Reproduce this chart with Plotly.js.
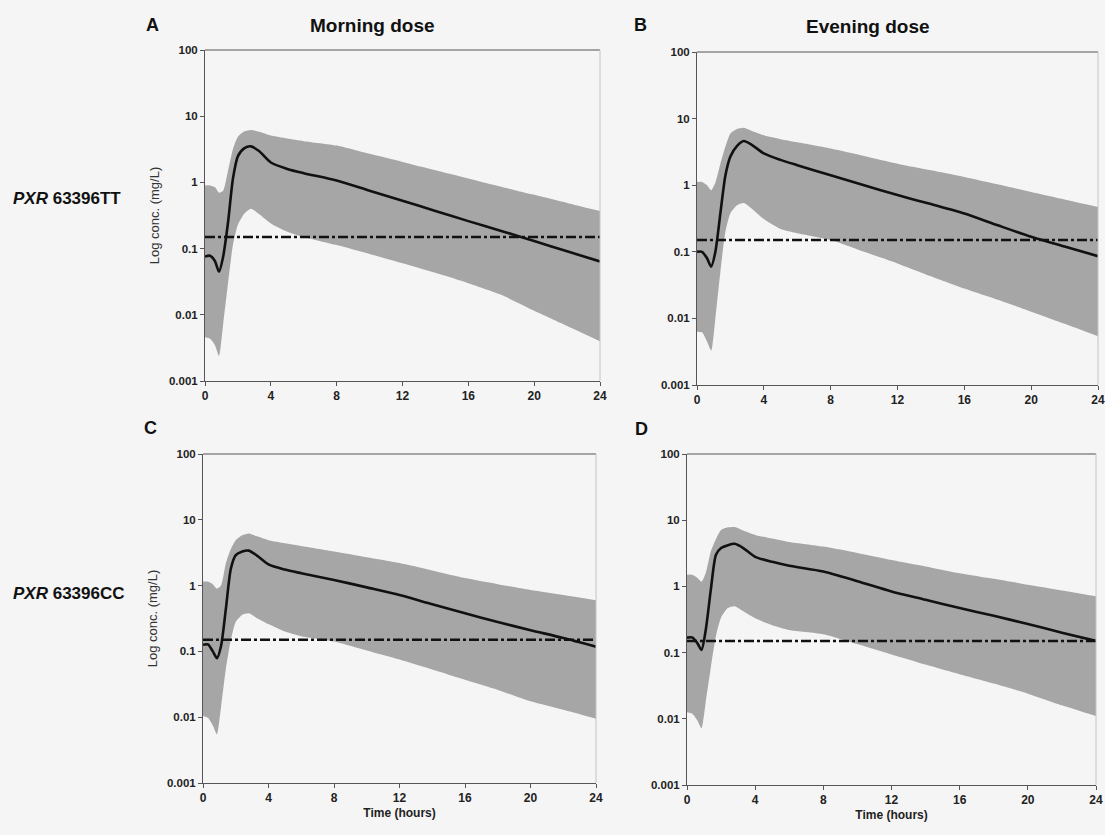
<!DOCTYPE html>
<html>
<head>
<meta charset="utf-8">
<script src="https://cdn.plot.ly/plotly-3.0.1.min.js"></script>
<style>
  html, body { margin: 0; padding: 0; background: #f5f5f5; }
  #chart { width: 1105px; height: 835px; }
</style>
</head>
<body>
<div id="chart"></div>
<script>
// Sampling times (hours after dose)
const hours = [0, 0.3, 0.6, 0.85, 1.1, 1.4, 1.7, 2.0, 2.4, 2.8, 3.3, 4, 5, 6, 8, 10, 12, 14, 16, 18, 20, 22, 24];

// Panel A: PXR 63396TT, morning dose
const medianA = [0.076, 0.078, 0.065, 0.045, 0.075, 0.25, 1.15, 2.5, 3.3, 3.5, 2.95, 2.0, 1.6, 1.38, 1.07, 0.75, 0.53, 0.37, 0.26, 0.185, 0.13, 0.091, 0.064];
const upperA  = [0.9, 0.9, 0.85, 0.7, 0.75, 1.5, 3.2, 4.9, 5.9, 6.2, 5.8, 5.1, 4.6, 4.2, 3.6, 2.7, 2.04, 1.53, 1.15, 0.86, 0.65, 0.49, 0.37];
const lowerA  = [0.0046, 0.0044, 0.0035, 0.0024, 0.007, 0.03, 0.115, 0.23, 0.34, 0.4, 0.33, 0.24, 0.18, 0.15, 0.113, 0.083, 0.06, 0.043, 0.03, 0.02, 0.0115, 0.0068, 0.0040];

// Panel B: PXR 63396TT, evening dose
const medianB = [0.1, 0.1, 0.08, 0.06, 0.1, 0.38, 1.4, 2.7, 3.9, 4.6, 4.0, 3.0, 2.4, 2.0, 1.41, 1.0, 0.71, 0.52, 0.376, 0.25, 0.168, 0.12, 0.086];
const upperB  = [1.12, 1.12, 1.0, 0.84, 1.1, 2.1, 3.8, 6.0, 7.0, 7.3, 6.5, 5.6, 4.9, 4.4, 3.55, 2.75, 2.1, 1.67, 1.33, 1.03, 0.79, 0.61, 0.47];
const lowerB  = [0.0063, 0.0062, 0.0045, 0.0033, 0.01, 0.05, 0.2, 0.38, 0.5, 0.54, 0.44, 0.31, 0.22, 0.19, 0.15, 0.1, 0.067, 0.043, 0.028, 0.019, 0.0126, 0.0083, 0.0054];

// Panel C: PXR 63396CC, morning dose
const medianC = [0.126, 0.128, 0.1, 0.079, 0.12, 0.45, 1.8, 2.9, 3.3, 3.4, 2.85, 2.1, 1.75, 1.54, 1.22, 0.94, 0.72, 0.52, 0.38, 0.28, 0.21, 0.16, 0.118];
const upperC  = [1.15, 1.15, 1.05, 0.9, 1.0, 2.2, 3.6, 4.9, 5.8, 6.2, 5.6, 4.9, 4.4, 4.0, 3.3, 2.7, 2.2, 1.7, 1.3, 1.05, 0.86, 0.72, 0.6];
const lowerC  = [0.0104, 0.0098, 0.0075, 0.0055, 0.014, 0.055, 0.15, 0.28, 0.36, 0.38, 0.32, 0.26, 0.2, 0.17, 0.141, 0.103, 0.075, 0.053, 0.037, 0.026, 0.0175, 0.013, 0.0095];

// Panel D: PXR 63396CC, evening dose
const medianD = [0.168, 0.17, 0.14, 0.11, 0.22, 0.9, 3.0, 3.8, 4.2, 4.4, 3.8, 2.8, 2.35, 2.05, 1.68, 1.2, 0.84, 0.63, 0.47, 0.36, 0.27, 0.2, 0.15];
const upperD  = [1.5, 1.5, 1.35, 1.18, 1.6, 3.4, 5.2, 7.1, 7.8, 7.9, 7.0, 6.0, 5.3, 4.7, 4.0, 3.2, 2.5, 2.0, 1.58, 1.3, 1.06, 0.87, 0.71];
const lowerD  = [0.0126, 0.012, 0.0095, 0.0072, 0.018, 0.06, 0.18, 0.34, 0.47, 0.5, 0.42, 0.33, 0.26, 0.22, 0.19, 0.135, 0.094, 0.066, 0.047, 0.034, 0.024, 0.016, 0.011];

// Target concentration line
const thresholdSpan = [0, 24];
const thresholdLevel = [0.15, 0.15];

// Axis tick labels
const timeTicks = [0, 4, 8, 12, 16, 20, 24];
const concTicks = [0.001, 0.01, 0.1, 1, 10, 100];
const concLabels = ['0.001', '0.01', '0.1', '1', '10', '100'];

const FONT = 'Liberation Sans, Arial, sans-serif';
const BAND = '#a6a6a6';

const panels = [
  { med: medianA, up: upperA, lo: lowerA, xa: 'x',  ya: 'y'  },
  { med: medianB, up: upperB, lo: lowerB, xa: 'x2', ya: 'y2' },
  { med: medianC, up: upperC, lo: lowerC, xa: 'x3', ya: 'y3' },
  { med: medianD, up: upperD, lo: lowerD, xa: 'x4', ya: 'y4' }
];

const traces = [];
panels.forEach(p => {
  traces.push({ x: hours, y: p.lo, xaxis: p.xa, yaxis: p.ya, mode: 'lines',
    line: { width: 0, shape: 'spline', smoothing: 0.6 }, hoverinfo: 'skip' });
  traces.push({ x: hours, y: p.up, xaxis: p.xa, yaxis: p.ya, mode: 'lines', fill: 'tonexty',
    fillcolor: BAND, line: { width: 0, shape: 'spline', smoothing: 0.6 }, hoverinfo: 'skip' });
  traces.push({ x: hours, y: p.med, xaxis: p.xa, yaxis: p.ya, mode: 'lines',
    line: { color: '#111', width: 2.6, shape: 'spline', smoothing: 0.7 } });
  traces.push({ x: thresholdSpan, y: thresholdLevel, xaxis: p.xa, yaxis: p.ya, mode: 'lines',
    line: { color: '#111', width: 2.6, dash: '10px,3px,3px,3px' } });
});

const W = 1105, H = 835;
function xd(a, b) { return [a / W, b / W]; }
function yd(top, bottom) { return [1 - bottom / H, 1 - top / H]; }

function xAxis(dom, anchor, withTitle) {
  const ax = {
    domain: dom, anchor: anchor, range: [0, 24], tickvals: timeTicks, ticktext: timeTicks.map(String),
    showline: true, linecolor: '#555', linewidth: 1, ticks: 'outside', ticklen: 4, tickcolor: '#555',
    showgrid: false, zeroline: false,
    tickfont: { family: FONT, size: 12, color: '#222', weight: 'bold' }
  };
  if (withTitle) {
    ax.title = { text: 'Time (hours)', font: { family: FONT, size: 12, color: '#222', weight: 'bold' }, standoff: 4 };
  }
  return ax;
}
function yAxis(dom, anchor, withTitle) {
  const ax = {
    domain: dom, anchor: anchor, type: 'log', range: [-3, 2], tickvals: concTicks, ticktext: concLabels,
    showline: true, linecolor: '#555', linewidth: 1, ticks: 'outside', ticklen: 4, tickcolor: '#555',
    showgrid: false, zeroline: false,
    tickfont: { family: FONT, size: 11.5, color: '#222', weight: 'bold' }
  };
  if (withTitle) {
    ax.title = { text: 'Log conc. (mg/L)', font: { family: FONT, size: 13, color: '#333' }, standoff: 6 };
  }
  return ax;
}

const shapes = [];
['', '2', '3', '4'].forEach(s => {
  shapes.push({ type: 'line', xref: 'x' + s + ' domain', yref: 'y' + s + ' domain',
    x0: 0, x1: 1, y0: 1, y1: 1, line: { color: '#555', width: 1.2 } });
  shapes.push({ type: 'line', xref: 'x' + s + ' domain', yref: 'y' + s + ' domain',
    x0: 1, x1: 1, y0: 0, y1: 1, line: { color: '#c4c4c4', width: 1 } });
});

function note(text, xpx, ypx, size, extra) {
  return Object.assign({ text: text, xref: 'paper', yref: 'paper', x: xpx / W, y: 1 - ypx / H,
    showarrow: false, xanchor: 'center', yanchor: 'middle',
    font: { family: FONT, size: size, color: '#111', weight: 'bold' } }, extra || {});
}

const layout = {
  width: W, height: H,
  margin: { l: 0, r: 0, t: 0, b: 0 },
  paper_bgcolor: '#f5f5f5', plot_bgcolor: '#f5f5f5',
  showlegend: false,
  xaxis:  xAxis(xd(205, 600), 'y', false),
  yaxis:  yAxis(yd(50, 381), 'x', true),
  xaxis2: xAxis(xd(697, 1098), 'y2', false),
  yaxis2: yAxis(yd(52, 385), 'x2', false),
  xaxis3: xAxis(xd(203, 596), 'y3', true),
  yaxis3: yAxis(yd(454, 783), 'x3', true),
  xaxis4: xAxis(xd(687, 1096), 'y4', true),
  yaxis4: yAxis(yd(454, 785), 'x4', false),
  shapes: shapes,
  annotations: [
    note('A', 152, 25, 18),
    note('Morning dose', 372, 25, 19),
    note('B', 640, 25, 18),
    note('Evening dose', 868, 26, 19),
    note('C', 150, 428, 18),
    note('D', 641, 429, 18),
    note('<i>PXR</i> 63396TT', 11, 199, 17, { xanchor: 'left' }),
    note('<i>PXR</i> 63396CC', 11, 593, 17, { xanchor: 'left' })
  ]
};

Plotly.newPlot('chart', traces, layout, { displayModeBar: false, staticPlot: true });
</script>
</body>
</html>
